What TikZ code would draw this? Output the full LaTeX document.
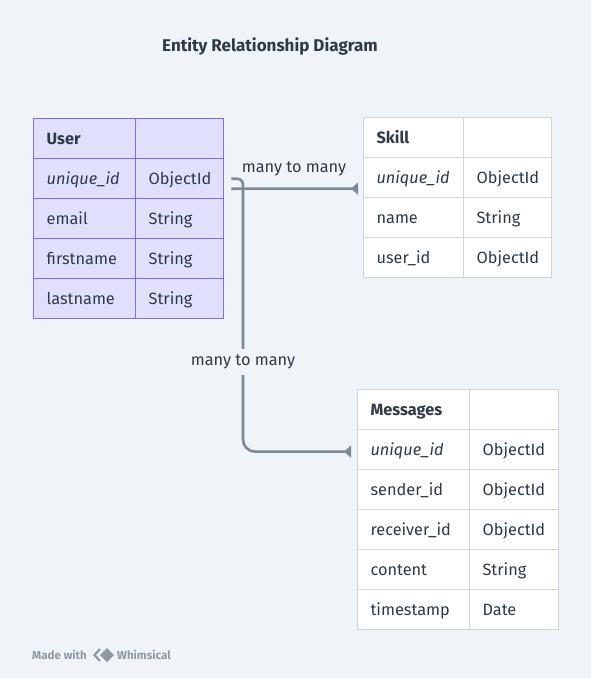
\documentclass[tikz,border=0pt]{standalone}
\usepackage{fontspec}
\setmainfont{Fira Sans}
\usetikzlibrary{arrows.meta,calc}
\definecolor{bg}{HTML}{F0F3F7}
\definecolor{txt}{HTML}{2E3A47}
\definecolor{lnc}{HTML}{7B8A99}
\definecolor{ufill}{HTML}{E0E0FD}
\definecolor{uborder}{HTML}{7F6DF2}
\definecolor{gborder}{HTML}{CDD5DE}
\definecolor{foot}{HTML}{8E99A4}
\tikzset{
  cellbase/.style={rectangle, minimum height=40pt, inner xsep=13pt, inner ysep=0pt,
    text height=15pt, text depth=2.5pt, align=left, anchor=north west,
    font=\fontsize{16.3}{19}\selectfont, text=txt},
  ucell/.style={cellbase, draw=uborder, fill=ufill, line width=1.4pt, text width=#1},
  gcell/.style={cellbase, draw=gborder, fill=white, line width=1.2pt, text width=#1},
  hdr/.style={font=\fontsize{16.3}{19}\selectfont\bfseries},
  key/.style={font=\fontsize{16.3}{19}\selectfont\itshape},
  conn/.style={draw=lnc, line width=2.6pt, -{Triangle[reversed,length=7pt,width=12pt]}},
  lab/.style={font=\fontsize{16.3}{19}\selectfont, text=txt, inner sep=6pt},
}
\begin{document}
\begin{tikzpicture}[x=1pt,y=-1pt]
\useasboundingbox[fill=bg] (0,0) rectangle (591,678);

\node[font=\fontsize{17}{20}\selectfont\bfseries, text=txt] (title) at (270,46) {Entity Relationship Diagram};

% User table
\node[ucell=76pt, hdr] (u-h)  at (33,118) {User};
\node[ucell=62pt]      (u-hb) at (135,118) {};
\node[ucell=76pt, key] (u-id) at (33,158) {unique\_id};
\node[ucell=62pt]      (u-idt) at (135,158) {ObjectId};
\node[ucell=76pt]      (u-em) at (33,198) {email};
\node[ucell=62pt]      (u-emt) at (135,198) {String};
\node[ucell=76pt]      (u-fn) at (33,238) {firstname};
\node[ucell=62pt]      (u-fnt) at (135,238) {String};
\node[ucell=76pt]      (u-ln) at (33,278) {lastname};
\node[ucell=62pt]      (u-lnt) at (135,278) {String};

% Skill table
\node[gcell=74pt, hdr] (s-h)  at (363,117) {Skill};
\node[gcell=62pt]      (s-hb) at (463,117) {};
\node[gcell=74pt, key] (s-id) at (363,157) {unique\_id};
\node[gcell=62pt]      (s-idt) at (463,157) {ObjectId};
\node[gcell=74pt]      (s-nm) at (363,197) {name};
\node[gcell=62pt]      (s-nmt) at (463,197) {String};
\node[gcell=74pt]      (s-ui) at (363,237) {user\_id};
\node[gcell=62pt]      (s-uit) at (463,237) {ObjectId};

% Messages table
\node[gcell=86pt, hdr] (m-h)  at (357,389) {Messages};
\node[gcell=63pt]      (m-hb) at (469,389) {};
\node[gcell=86pt, key] (m-id) at (357,429) {unique\_id};
\node[gcell=63pt]      (m-idt) at (469,429) {ObjectId};
\node[gcell=86pt]      (m-sd) at (357,469) {sender\_id};
\node[gcell=63pt]      (m-sdt) at (469,469) {ObjectId};
\node[gcell=86pt]      (m-rc) at (357,509) {receiver\_id};
\node[gcell=63pt]      (m-rct) at (469,509) {ObjectId};
\node[gcell=86pt]      (m-ct) at (357,549) {content};
\node[gcell=63pt]      (m-ctt) at (469,549) {String};
\node[gcell=86pt]      (m-ts) at (357,589) {timestamp};
\node[gcell=63pt]      (m-tst) at (469,589) {Date};

% connectors
\coordinate (j) at (243,0);
\draw[conn] ([xshift=7pt]u-idt.east) [rounded corners=6pt] -- (j |- u-idt.east)
  [rounded corners=12pt] -- ($(j |- m-id.west)+(0,2)$) -- ($(m-id.west)+(-6,2)$);
\draw[conn] ($(u-idt.east)+(7,10)$) -- ($(s-id.west)+(-5,11)$);

\node[lab] (l1) at (294,169) {many to many};
\node[lab, fill=bg] (l2) at (243,362) {many to many};

% footer
\node[anchor=west, inner sep=0pt, font=\fontsize{11.6}{13}\selectfont\bfseries, text=foot] (made) at (32,655) {Made with};
\fill[foot] (107,648) -- (114,655) -- (107,662) -- (100,655) -- cycle;
\draw[foot, line width=2.2pt, line join=miter] (100,649) -- (94.5,655) -- (100,661);
\node[anchor=west, inner sep=0pt, font=\fontsize{11.6}{13}\selectfont\bfseries, text=foot] (whim) at (117,655) {Whimsical};
\end{tikzpicture}
\end{document}
